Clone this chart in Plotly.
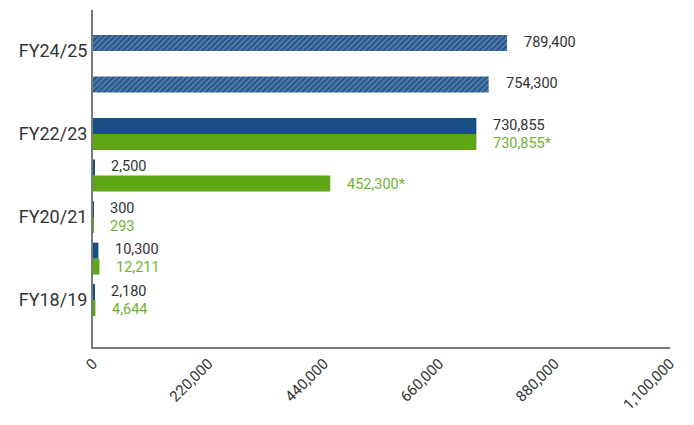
import plotly.graph_objects as go

categories = ["FY18/19", "FY19/20", "FY20/21", "FY21/22", "FY22/23", "FY23/24", "FY24/25"]
blue_values = [2180, 10300, 300, 2500, 730855, 754300, 789400]
green_values = [4644, 12211, 293, 452300, 730855, None, None]
blue_labels = ["2,180", "10,300", "300", "2,500", "730,855", "754,300", "789,400"]
green_labels = ["4,644", "12,211", "293", "452,300*", "730,855*", "", ""]
blue_hatch = ["", "", "", "", "", "/", "/"]
y_tick_labels = ["FY18/19", "FY20/21", "FY22/23", "FY24/25"]
x_ticks = [0, 220000, 440000, 660000, 880000, 1100000]

BLUE = "#174f84"
GREEN = "#5ea614"
BLUE_TXT = "#333333"
GREEN_TXT = "#6fb32f"

fig = go.Figure()
fig.add_trace(go.Bar(
    y=categories, x=green_values, orientation="h", name="Actual",
    marker=dict(color=GREEN, line=dict(width=0)),
    hoverinfo="skip",
))
fig.add_trace(go.Bar(
    y=categories, x=blue_values, orientation="h", name="Target",
    marker=dict(color=BLUE, line=dict(width=0),
                pattern=dict(shape=blue_hatch, bgcolor="#28598b", fgcolor="#9dbad8",
                             size=4, solidity=0.3)),
    hoverinfo="skip",
))

annotations = []
for cat, v, lab in zip(categories, blue_values, blue_labels):
    if v is not None and lab:
        annotations.append(dict(x=v, y=cat, text=lab, xanchor="left", yanchor="middle",
                                xshift=16, yshift=9, showarrow=False, borderpad=0,
                                font=dict(family="Roboto", size=14.5, color=BLUE_TXT)))
for cat, v, lab in zip(categories, green_values, green_labels):
    if v is not None and lab:
        annotations.append(dict(x=v, y=cat, text=lab, xanchor="left", yanchor="middle",
                                xshift=16, yshift=-9, showarrow=False, borderpad=0,
                                font=dict(family="Roboto", size=14.5, color=GREEN_TXT)))

fig.update_layout(
    width=686, height=417,
    margin=dict(l=85, r=24, t=2, b=78),
    paper_bgcolor="white", plot_bgcolor="white",
    barmode="group", bargap=0.23, bargroupgap=0,
    showlegend=False,
    annotations=annotations,
    font=dict(family="Roboto", color="#333333"),
    xaxis=dict(range=[0, 1100000], tickvals=x_ticks, tickformat=",d",
               tickangle=-45, showgrid=False, zeroline=False, automargin=False,
               showline=True, linecolor="#7a7a7a", linewidth=2, layer="above traces",
               tickfont=dict(family="Roboto", size=15, color="#333333"), ticks=""),
    yaxis=dict(type="category", categoryorder="array", categoryarray=categories,
               range=[-1.13, 6.99], tickmode="array", tickvals=y_tick_labels,
               ticktext=y_tick_labels, showgrid=False, zeroline=False, automargin=False,
               showline=True, linecolor="#7a7a7a", linewidth=2, ticks="", layer="above traces",
               tickfont=dict(family="Roboto", size=18, color="#333333")),
)

fig.write_html("out.html")
